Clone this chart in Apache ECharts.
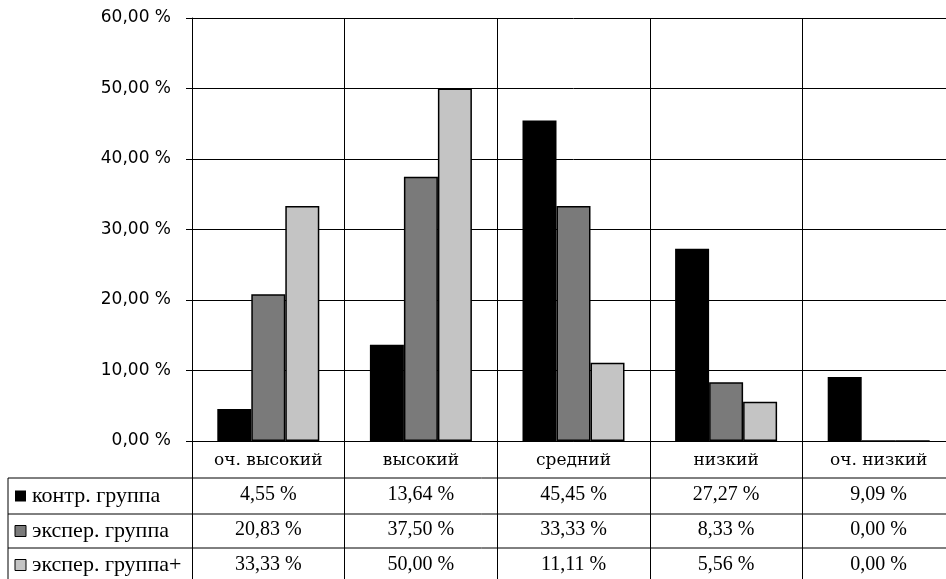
<!DOCTYPE html>
<html>
<head>
<meta charset="utf-8">
<script src="https://cdn.jsdelivr.net/npm/echarts@6/dist/echarts.min.js"></script>
<style>
  html, body { margin: 0; padding: 0; background: #fff; overflow: hidden; }
  #chart { width: 955px; height: 579px; }
</style>
</head>
<body>
<div id="chart"></div>
<script>
// Levels and group results (percent)
const categories = ['оч. высокий', 'высокий', 'средний', 'низкий', 'оч. низкий'];
const seriesNames = ['контр. группа', 'экспер. группа', 'экспер. группа+'];
const controlGroup = [4.55, 13.64, 45.45, 27.27, 9.09];
const experGroup = [20.83, 37.50, 33.33, 8.33, 0.00];
const experGroupPlus = [33.33, 50.00, 11.11, 5.56, 0.00];
const yTicks = { min: 0, max: 60, interval: 10 };

const values = [controlGroup, experGroup, experGroupPlus];
const colors = ['#000000', '#7a7a7a', '#c4c4c4'];
const serif = 'Liberation Serif';

function pct(v) {
  return v.toFixed(2).replace('.', ',') + ' %';
}

const chart = echarts.init(document.getElementById('chart'), null, { renderer: 'canvas' });

// Plot box and data-table rules
const G = { left: 192, top: 18, right: 0, height: 423 };
const tableTop = 478;
const rowLines = [478, 514, 548];
const rowCenters = [496, 531, 565];

const graphics = rowLines.map(y => ({
  type: 'line',
  shape: { x1: 8, y1: y, x2: 955, y2: y },
  style: { stroke: '#000', lineWidth: 1 },
  silent: true
}));
graphics.push({
  type: 'line',
  shape: { x1: 8, y1: tableTop, x2: 8, y2: 579 },
  style: { stroke: '#000', lineWidth: 1 },
  silent: true
});
// row keys: swatch + series name
seriesNames.forEach((name, i) => {
  graphics.push({
    type: 'rect',
    shape: { x: 15, y: rowCenters[i] - 5.5, width: 11, height: 11 },
    style: { fill: colors[i], stroke: '#000', lineWidth: i === 0 ? 0 : 1 },
    silent: true
  });
  graphics.push({
    type: 'text',
    x: 32,
    y: rowCenters[i],
    style: {
      text: name,
      font: '22px "Liberation Serif"',
      fill: '#000',
      verticalAlign: 'middle',
      align: 'left'
    },
    silent: true
  });
});

chart.setOption({
  animation: false,
  backgroundColor: '#fff',
  grid: { left: G.left, top: G.top, right: G.right, height: G.height, containLabel: false },
  xAxis: {
    type: 'category',
    data: categories,
    boundaryGap: true,
    axisLine: { show: true, lineStyle: { color: '#000', width: 1 } },
    axisTick: { show: true, interval: 0, inside: false, length: 138, lineStyle: { color: '#000', width: 1 } },
    splitLine: { show: true, interval: 0, lineStyle: { color: '#000', width: 1 } },
    axisLabel: {
      interval: 0,
      margin: 4,
      color: '#000',
      formatter: function (name, idx) {
        return '{h|' + name + '}\n' +
          values.map(arr => '{v|' + pct(arr[idx]) + '}').join('\n');
      },
      rich: {
        h: { fontFamily: 'DejaVu Serif', fontSize: 17, lineHeight: 32, color: '#000', align: 'center' },
        v: { fontFamily: serif, fontSize: 20, lineHeight: 35, color: '#000', align: 'center' }
      }
    }
  },
  yAxis: {
    type: 'value',
    min: yTicks.min,
    max: yTicks.max,
    interval: yTicks.interval,
    axisLine: { show: true, lineStyle: { color: '#000', width: 1 } },
    axisTick: { show: true, length: 6, lineStyle: { color: '#000' } },
    splitLine: { show: true, lineStyle: { color: '#000', width: 1 } },
    axisLabel: {
      margin: 21,
      color: '#000',
      fontFamily: 'DejaVu Sans',
      fontSize: 17,
      formatter: v => pct(v)
    }
  },
  series: values.map((arr, i) => ({
    name: seriesNames[i],
    type: 'bar',
    data: arr,
    barWidth: 34,
    barGap: '0%',
    itemStyle: {
      color: colors[i],
      borderColor: '#000',
      borderWidth: i === 0 ? 0 : 1.5
    }
  })),
  graphic: graphics
});
</script>
</body>
</html>
